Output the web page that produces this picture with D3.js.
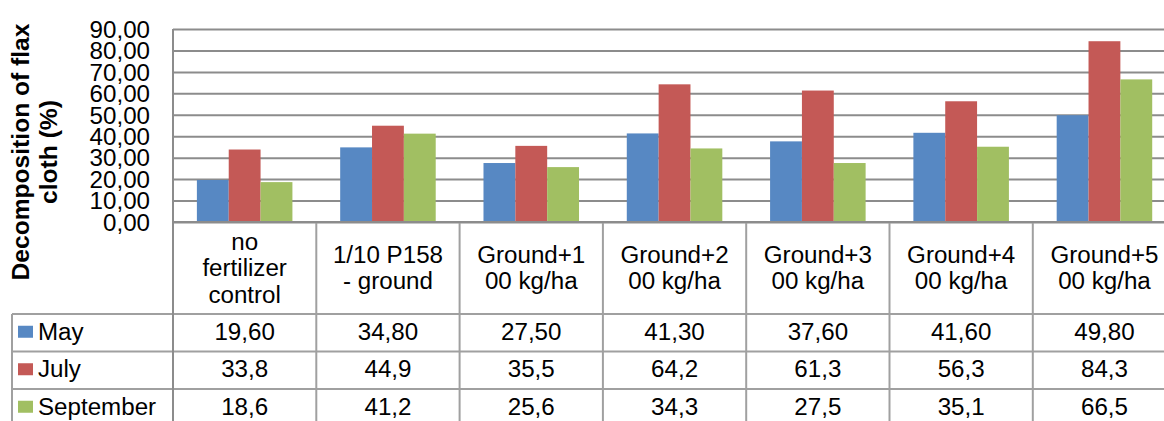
<!DOCTYPE html>
<html>
<head>
<meta charset="utf-8">
<script src="https://cdn.jsdelivr.net/npm/d3@7"></script>
<style>
  body { margin: 0; background: #fff; }
  text { font-family: "Liberation Sans", Arial, sans-serif; fill: #000; }
</style>
</head>
<body>
<div id="chart"></div>
<script>
// data
const categories = [
  "no\nfertilizer\ncontrol",
  "1/10 P158\n- ground",
  "Ground+1\n00 kg/ha",
  "Ground+2\n00 kg/ha",
  "Ground+3\n00 kg/ha",
  "Ground+4\n00 kg/ha",
  "Ground+5\n00 kg/ha"
]
const seriesNames = ["May", "July", "September"]
const mayValues = [19.6, 34.8, 27.5, 41.3, 37.6, 41.6, 49.8]
const julyValues = [33.8, 44.9, 35.5, 64.2, 61.3, 56.3, 84.3]
const septemberValues = [18.6, 41.2, 25.6, 34.3, 27.5, 35.1, 66.5]
const tableDecimals = [2, 1, 1]
const yTicks = [0, 10, 20, 30, 40, 50, 60, 70, 80, 90]
const yTitle = ["Decomposition of flax", "cloth (%)"]

const seriesValues = [mayValues, julyValues, septemberValues]
const colors = ["#5788c3", "#c45956", "#a1bf62"]

// layout
const W = 1164, H = 421
const plotLeft = 173, colW = 143.3
const plotTop = 29, plotBottom = 222
const headerBottom = 314, rowH = 37.5
const tableLeft = 12
const sx = 1.05   // text in the reference is a touch wider than Arial
const fs = 23
const gridColor = "#8c8c8c", tableColor = "#a0a0a0"

const fmt = d3.formatLocale({decimal: ",", thousands: ".", grouping: [3], currency: ["", ""]})

const svg = d3.select("#chart").append("svg")
  .attr("width", W)
  .attr("height", H)

const x = d3.scaleBand()
  .domain(d3.range(categories.length))
  .range([plotLeft, plotLeft + colW * categories.length])

const xs = d3.scaleBand()
  .domain(d3.range(seriesNames.length))
  .range([0, x.bandwidth()])
  .paddingOuter(0.75)

const y = d3.scaleLinear()
  .domain([0, 90])
  .range([plotBottom, plotTop])

const plotRight = x.range()[1]

// gridlines + tick labels
const yAxis = svg.append("g")
  .attr("transform", `translate(${plotLeft},0)`)
  .call(d3.axisLeft(y)
    .tickValues(yTicks)
    .tickSize(-(plotRight - plotLeft))
    .tickFormat(fmt.format(".2f")))

yAxis.select(".domain").remove()
yAxis.selectAll(".tick line")
  .attr("stroke", gridColor)
  .attr("stroke-width", 2)
yAxis.selectAll(".tick text")
  .attr("x", -23 / sx)
  .attr("dy", "0.36em")
  .attr("transform", `scale(${sx},1)`)
  .style("font-size", fs + "px")
  .style("font-family", '"Liberation Sans", Arial, sans-serif')
  .attr("fill", "#000")

// bars
const groups = svg.append("g")
  .selectAll("g")
  .data(categories)
  .join("g")
  .attr("transform", (d, i) => `translate(${x(i)},0)`)

groups.selectAll("rect")
  .data((d, i) => seriesValues.map((vals, s) => ({s: s, v: vals[i]})))
  .join("rect")
  .attr("x", d => xs(d.s))
  .attr("width", xs.bandwidth())
  .attr("y", d => y(d.v))
  .attr("height", d => y(0) - y(d.v))
  .attr("fill", d => colors[d.s])

// table lines
const lines = svg.append("g")
  .attr("stroke", tableColor)
  .attr("stroke-width", 2)

// column separators
lines.selectAll(".sep")
  .data(d3.range(1, categories.length + 1))
  .join("line")
  .attr("x1", i => x(i) !== undefined ? x(i) : plotRight)
  .attr("x2", i => x(i) !== undefined ? x(i) : plotRight)
  .attr("y1", plotBottom)
  .attr("y2", H + 10)

// left border of the legend column
lines.append("line")
  .attr("x1", tableLeft).attr("x2", tableLeft)
  .attr("y1", headerBottom).attr("y2", H + 10)

// row lines
lines.selectAll(".row")
  .data(d3.range(seriesNames.length))
  .join("line")
  .attr("x1", tableLeft).attr("x2", plotRight)
  .attr("y1", r => headerBottom + r * rowH)
  .attr("y2", r => headerBottom + r * rowH)

// category axis line
lines.append("line")
  .attr("x1", plotLeft).attr("x2", plotRight)
  .attr("y1", plotBottom).attr("y2", plotBottom)
  .attr("stroke", gridColor)

// vertical axis line down through the table
lines.append("line")
  .attr("x1", plotLeft).attr("x2", plotLeft)
  .attr("y1", plotTop).attr("y2", H + 10)
  .attr("stroke", gridColor)

// category labels in the header row
const headerMid = (plotBottom + headerBottom) / 2
const lineH = 26.5
groups.each(function (d, i) {
  const parts = d.split("\n")
  const g = d3.select(this)
  parts.forEach((p, k) => {
    g.append("text")
      .attr("transform", `translate(${x.bandwidth() / 2},${headerMid + 8 + (k - (parts.length - 1) / 2) * lineH}) scale(${sx},1)`)
      .attr("text-anchor", "middle")
      .style("font-size", fs + "px")
      .text(p)
  })
})

// table body
seriesNames.forEach((name, s) => {
  const mid = headerBottom + s * rowH + rowH / 2
  svg.append("rect")
    .attr("x", 18)
    .attr("y", mid - 7)
    .attr("width", 15)
    .attr("height", 12)
    .attr("fill", colors[s])
  svg.append("text")
    .attr("transform", `translate(38,${mid + 7}) scale(${sx},1)`)
    .style("font-size", fs + "px")
    .text(name)
  svg.append("g")
    .selectAll("text")
    .data(seriesValues[s])
    .join("text")
    .attr("transform", (v, i) => `translate(${x(i) + x.bandwidth() / 2},${mid + 7}) scale(${sx},1)`)
    .attr("text-anchor", "middle")
    .style("font-size", fs + "px")
    .text(v => fmt.format("." + tableDecimals[s] + "f")(v))
})

// y axis title
const titleMid = 152
yTitle.forEach((t, k) => {
  svg.append("text")
    .attr("transform", `translate(${28.5 + k * 28},${titleMid}) rotate(-90) scale(1.07,1)`)
    .attr("text-anchor", "middle")
    .style("font-size", fs + "px")
    .style("font-weight", "bold")
    .text(t)
})
</script>
</body>
</html>
